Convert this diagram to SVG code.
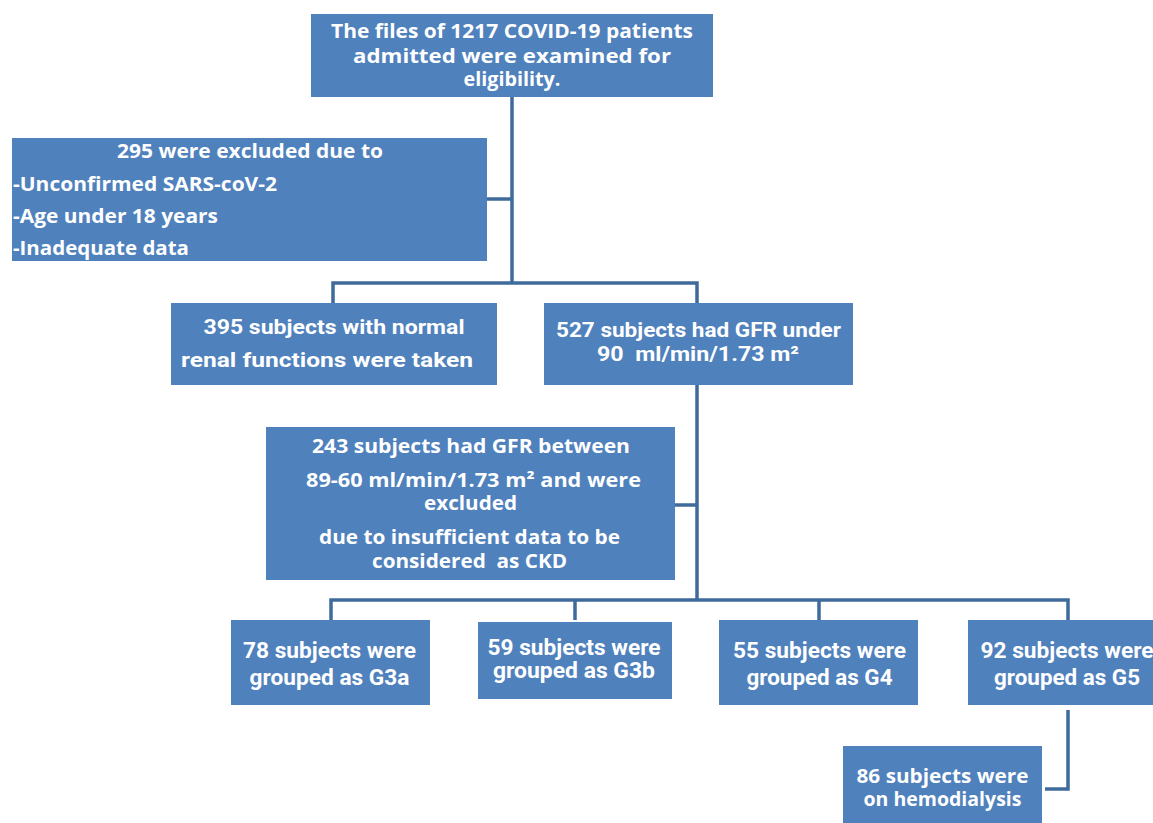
<svg xmlns="http://www.w3.org/2000/svg" width="1153" height="823" viewBox="0 0 1153 823">
<style>
.box{fill:#4F81BD;}
.t{font-family:"Open Sans","DejaVu Sans",sans-serif;font-weight:bold;fill:#FFFFFF;font-size:19px;white-space:pre;}
.c{text-anchor:middle;}
.n{font-family:Roboto,"Liberation Sans",sans-serif;font-weight:bold;fill:#FFFFFF;font-size:21px;white-space:pre;}
.b{font-size:22px;}
.con{fill:none;stroke:#3F6A9C;stroke-width:3.5;}
</style>
<rect width="1153" height="823" fill="#FFFFFF"/>
<g id="connectors">
<path class="con" d="M512 97 V283"/>
<path class="con" d="M487 199 H512"/>
<path class="con" d="M333 303 V283 H697 V303"/>
<path class="con" d="M697 385 V600"/>
<path class="con" d="M675 505 H697"/>
<path class="con" d="M331 620 V600 H1068 V620"/>
<path class="con" d="M575 600 V620"/>
<path class="con" d="M819 600 V620"/>
<path class="con" d="M1068 710 V789 H1045"/>
</g>
<g id="n-top">
<rect class="box" x="311" y="14" width="402" height="83"/>
<text class="t c" x="512" y="38" textLength="362" lengthAdjust="spacingAndGlyphs">The files of 1217 COVID-19 patients</text>
<text class="t c" x="512" y="63" textLength="318" lengthAdjust="spacingAndGlyphs">admitted were examined for</text>
<text class="t c" x="512" y="86" textLength="97" lengthAdjust="spacingAndGlyphs">eligibility.</text>
</g>
<g id="n-excluded">
<rect class="box" x="12" y="138" width="475" height="123"/>
<text class="t c" x="250" y="158" textLength="266" lengthAdjust="spacingAndGlyphs">295 were excluded due to</text>
<text class="t" x="13" y="191" textLength="264" lengthAdjust="spacingAndGlyphs">-Unconfirmed SARS-coV-2</text>
<text class="t" x="13" y="223" textLength="205" lengthAdjust="spacingAndGlyphs">-Age under 18 years</text>
<text class="t" x="13" y="255" textLength="176" lengthAdjust="spacingAndGlyphs">-Inadequate data</text>
</g>
<g id="n-normal">
<rect class="box" x="171" y="303" width="326" height="82"/>
<text class="n c" x="334" y="334" textLength="261" lengthAdjust="spacingAndGlyphs">395 subjects with normal</text>
<text class="n c" x="327" y="367" textLength="292" lengthAdjust="spacingAndGlyphs">renal functions were taken</text>
</g>
<g id="n-gfr">
<rect class="box" x="544" y="303" width="309" height="82"/>
<text class="n c" x="698.5" y="337" textLength="285" lengthAdjust="spacingAndGlyphs">527 subjects had GFR under</text>
<text class="n c" x="698" y="361" textLength="202" lengthAdjust="spacingAndGlyphs">90  ml/min/1.73 m²</text>
</g>
<g id="n-243">
<rect class="box" x="266" y="427" width="409" height="153"/>
<text class="t c" x="471" y="453" textLength="318" lengthAdjust="spacingAndGlyphs">243 subjects had GFR between</text>
<text class="t c" x="473.5" y="487" textLength="335" lengthAdjust="spacingAndGlyphs">89-60 ml/min/1.73 m² and were</text>
<text class="t c" x="470.5" y="510" textLength="93" lengthAdjust="spacingAndGlyphs">excluded</text>
<text class="t c" x="469.5" y="544" textLength="301" lengthAdjust="spacingAndGlyphs">due to insufficient data to be</text>
<text class="t c" x="469.5" y="568" textLength="195" lengthAdjust="spacingAndGlyphs">considered  as CKD</text>
</g>
<g id="n-g3a">
<rect class="box" x="231" y="620" width="199" height="85"/>
<text class="n b c" x="329.5" y="658" textLength="173" lengthAdjust="spacingAndGlyphs">78 subjects were</text>
<text class="n b c" x="329.5" y="685" textLength="160" lengthAdjust="spacingAndGlyphs">grouped as G3a</text>
</g>
<g id="n-g3b">
<rect class="box" x="478" y="622" width="194" height="77"/>
<text class="n b c" x="574" y="655" textLength="173" lengthAdjust="spacingAndGlyphs">59 subjects were</text>
<text class="n b c" x="574" y="678" textLength="162" lengthAdjust="spacingAndGlyphs">grouped as G3b</text>
</g>
<g id="n-g4">
<rect class="box" x="719" y="620" width="199" height="85"/>
<text class="n b c" x="819.5" y="658" textLength="173" lengthAdjust="spacingAndGlyphs">55 subjects were</text>
<text class="n b c" x="819.5" y="685" textLength="146" lengthAdjust="spacingAndGlyphs">grouped as G4</text>
</g>
<g id="n-g5">
<rect class="box" x="968" y="620" width="190" height="85"/>
<text class="n b c" x="1067" y="658" textLength="173" lengthAdjust="spacingAndGlyphs">92 subjects were</text>
<text class="n b c" x="1067" y="685" textLength="146" lengthAdjust="spacingAndGlyphs">grouped as G5</text>
</g>
<g id="n-hd">
<rect class="box" x="843" y="746" width="199" height="80"/>
<text class="t c" x="942.5" y="783" textLength="172" lengthAdjust="spacingAndGlyphs">86 subjects were</text>
<text class="t c" x="942.5" y="806" textLength="158" lengthAdjust="spacingAndGlyphs">on hemodialysis</text>
</g>
</svg>
